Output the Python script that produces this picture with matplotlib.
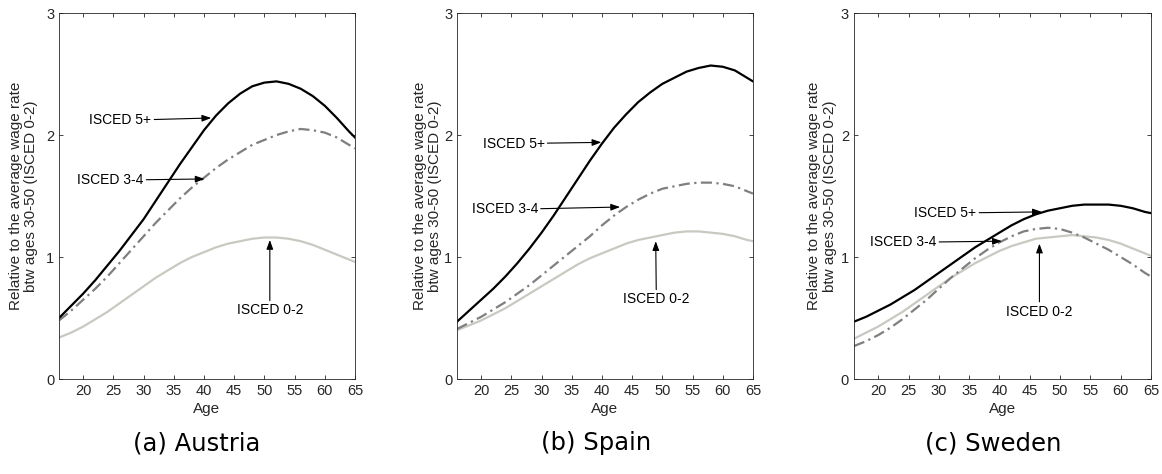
import matplotlib
matplotlib.use("Agg")
import matplotlib.pyplot as plt
import numpy as np

plt.rcParams['font.family'] = ['Liberation Sans', 'DejaVu Sans']

ages = [16, 18, 20, 22, 24, 26, 28, 30, 32, 34, 36, 38, 40, 42, 44, 46, 48, 50,
        52, 54, 56, 58, 60, 62, 64, 65]

# Austria
at_high = [0.50, 0.60, 0.70, 0.81, 0.93, 1.05, 1.18, 1.31, 1.46, 1.61, 1.76, 1.90, 2.04,
           2.16, 2.26, 2.34, 2.40, 2.43, 2.44, 2.42, 2.38, 2.32, 2.24, 2.14, 2.03, 1.98]
at_mid = [0.48, 0.56, 0.65, 0.74, 0.84, 0.95, 1.06, 1.17, 1.28, 1.38, 1.48, 1.57, 1.65,
          1.73, 1.80, 1.86, 1.92, 1.96, 2.00, 2.03, 2.05, 2.04, 2.02, 1.98, 1.92, 1.89]
at_low = [0.34, 0.38, 0.43, 0.49, 0.55, 0.62, 0.69, 0.76, 0.83, 0.89, 0.95, 1.00, 1.04,
          1.08, 1.11, 1.13, 1.15, 1.16, 1.16, 1.15, 1.13, 1.10, 1.06, 1.02, 0.98, 0.96]

# Spain
es_high = [0.47, 0.56, 0.65, 0.74, 0.84, 0.95, 1.07, 1.20, 1.34, 1.49, 1.64, 1.79, 1.93,
           2.06, 2.17, 2.27, 2.35, 2.42, 2.47, 2.52, 2.55, 2.57, 2.56, 2.53, 2.47, 2.44]
es_mid = [0.41, 0.46, 0.51, 0.57, 0.63, 0.70, 0.77, 0.85, 0.93, 1.01, 1.09, 1.17, 1.26,
          1.34, 1.41, 1.47, 1.52, 1.56, 1.58, 1.60, 1.61, 1.61, 1.60, 1.58, 1.54, 1.52]
es_low = [0.40, 0.44, 0.48, 0.53, 0.58, 0.64, 0.70, 0.76, 0.82, 0.88, 0.94, 0.99, 1.03,
          1.07, 1.11, 1.14, 1.16, 1.18, 1.20, 1.21, 1.21, 1.20, 1.19, 1.17, 1.14, 1.13]

# Sweden
se_high = [0.47, 0.51, 0.56, 0.61, 0.67, 0.73, 0.80, 0.87, 0.94, 1.01, 1.08, 1.14, 1.20,
           1.26, 1.31, 1.35, 1.38, 1.40, 1.42, 1.43, 1.43, 1.43, 1.42, 1.40, 1.37, 1.36]
se_mid = [0.27, 0.31, 0.36, 0.42, 0.49, 0.57, 0.65, 0.74, 0.83, 0.91, 0.99, 1.06, 1.12,
          1.17, 1.21, 1.23, 1.24, 1.23, 1.20, 1.16, 1.11, 1.06, 1.00, 0.94, 0.87, 0.84]
se_low = [0.33, 0.38, 0.43, 0.49, 0.55, 0.62, 0.69, 0.76, 0.83, 0.89, 0.95, 1.00, 1.05,
          1.09, 1.12, 1.15, 1.16, 1.17, 1.18, 1.17, 1.16, 1.14, 1.11, 1.07, 1.03, 1.01]

captions = ["(a) Austria", "(b) Spain", "(c) Sweden"]

# (label, text pos, arrow tip) per panel
notes = [
    [("ISCED 5+", (31.3, 2.12), (41.2, 2.14)),
     ("ISCED 3-4", (30.0, 1.63), (40.1, 1.64)),
     ("ISCED 0-2", (50.9, 0.62), (50.9, 1.14))],
    [("ISCED 5+", (30.5, 1.93), (39.9, 1.94)),
     ("ISCED 3-4", (29.4, 1.39), (43.0, 1.41)),
     ("ISCED 0-2", (49.0, 0.71), (48.9, 1.13))],
    [("ISCED 5+", (36.2, 1.36), (47.0, 1.37)),
     ("ISCED 3-4", (29.6, 1.12), (40.4, 1.13)),
     ("ISCED 0-2", (46.6, 0.61), (46.6, 1.11))],
]

series = [(at_high, at_mid, at_low), (es_high, es_mid, es_low), (se_high, se_mid, se_low)]

fig = plt.figure(figsize=(11.62, 4.74), dpi=100)
lefts = [0.0508, 0.3933, 0.7349]
widths = [0.2547, 0.2547, 0.2556]
label_x = [-0.07, -0.05, -0.057]
cap_x = [197 / 1162, 596 / 1162, 993 / 1162]

for i in range(3):
    ax = fig.add_axes([lefts[i], 0.2004, widths[i], 0.772])
    hi, mid, lo = series[i]
    ax.plot(ages, lo, color='#c9c8c1', lw=1.6)
    ax.plot(ages, mid, color='#7f7f7f', lw=1.6, ls=(0, (5, 2, 1, 2)))
    ax.plot(ages, hi, color='black', lw=1.6)
    ax.set_xlim(16, 65)
    ax.set_ylim(0, 3)
    ax.set_xticks(np.arange(20, 66, 5))
    ax.set_yticks([0, 1, 2, 3])
    ax.tick_params(direction='in', top=True, right=True, labelsize=10.5, length=3,
                   colors='#262626', width=0.6)
    for sp in ax.spines.values():
        sp.set_linewidth(0.6)
        sp.set_color('#262626')
    ax.set_xlabel("Age", fontsize=11, color='#262626', labelpad=3)
    ax.set_ylabel("Relative to the average wage rate\nbtw ages 30-50 (ISCED 0-2)",
                  fontsize=11, color='#262626', linespacing=1.15)
    ax.yaxis.set_label_coords(label_x[i], 0.5)

    for j, (txt, tpos, tip) in enumerate(notes[i]):
        if j == 2:
            ha, va = 'center', 'top'
        else:
            ha, va = 'right', 'center'
        ax.annotate(txt, xy=tip, xytext=tpos, ha=ha, va=va, fontsize=10,
                    arrowprops=dict(arrowstyle='-|>,head_length=0.55,head_width=0.2',
                                    color='black', lw=0.8, shrinkA=0, shrinkB=0))

    fig.text(cap_x[i], 0.065, captions[i], ha='center', va='center',
             fontsize=17.5, family='DejaVu Sans')

fig.savefig("out.png", dpi=100)
